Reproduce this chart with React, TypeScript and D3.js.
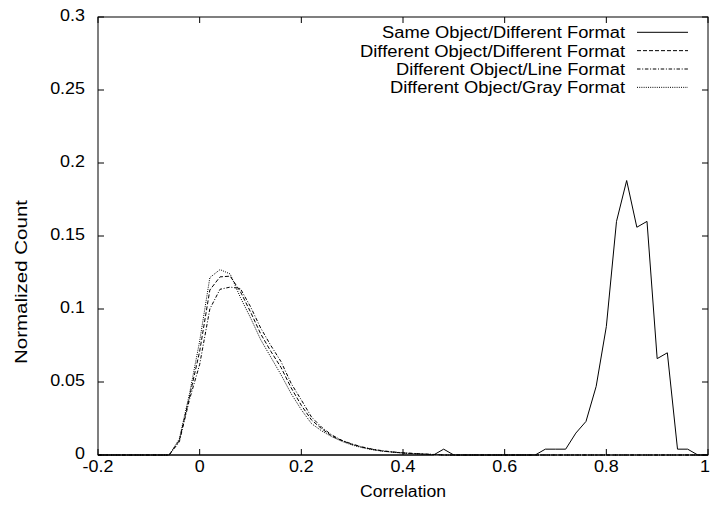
import React from 'react';
import * as d3 from 'd3';

// correlation bins (x) and normalized counts (y)
const sameX = [-0.2, 0.46, 0.48, 0.5, 0.66, 0.68, 0.7, 0.72, 0.74, 0.76, 0.78, 0.8, 0.82, 0.84, 0.86, 0.88, 0.9, 0.92, 0.94, 0.96, 0.98, 1.0];
const sameY = [0, 0, 0.004, 0, 0, 0.004, 0.004, 0.004, 0.015, 0.023, 0.047, 0.088, 0.16, 0.188, 0.156, 0.16, 0.066, 0.07, 0.004, 0.004, 0, 0];

const diffX = [-0.2, -0.06, -0.04, -0.02, 0, 0.02, 0.04, 0.06, 0.08, 0.1, 0.12, 0.14, 0.16, 0.18, 0.2, 0.22, 0.24, 0.26, 0.28, 0.3, 0.32, 0.34, 0.36, 0.38, 0.4, 0.42, 0.44, 0.46, 0.48, 1.0];
const diffFormatY = [0, 0, 0.01, 0.04, 0.071, 0.113, 0.122, 0.1225, 0.112, 0.098, 0.083, 0.071, 0.06, 0.046, 0.034, 0.024, 0.018, 0.013, 0.0098, 0.0073, 0.0053, 0.0038, 0.0027, 0.002, 0.0014, 0.001, 0.0006, 0.0003, 0, 0];
const lineFormatY = [0, 0, 0.009, 0.038, 0.062, 0.1, 0.1135, 0.115, 0.114, 0.1016, 0.087, 0.075, 0.064, 0.049, 0.0377, 0.026, 0.019, 0.0137, 0.01, 0.0075, 0.0055, 0.004, 0.0029, 0.0021, 0.0015, 0.0011, 0.0007, 0.0004, 0, 0];
const grayFormatY = [0, 0, 0.011, 0.042, 0.078, 0.1215, 0.127, 0.124, 0.108, 0.094, 0.079, 0.067, 0.055, 0.042, 0.031, 0.0215, 0.0165, 0.0125, 0.0093, 0.0068, 0.005, 0.0036, 0.0026, 0.0019, 0.0013, 0.0009, 0.0006, 0.0003, 0, 0];

const seriesNames = [
  'Same Object/Different Format',
  'Different Object/Different Format',
  'Different Object/Line Format',
  'Different Object/Gray Format',
];
const xTicks = [-0.2, 0, 0.2, 0.4, 0.6, 0.8, 1];
const yTicks = [0, 0.05, 0.1, 0.15, 0.2, 0.25, 0.3];

export default function App() {
  const width = 711;
  const height = 514;
  const margin = { left: 98, right: 3, top: 17, bottom: 59 };
  const font = "'Liberation Sans', Arial, Helvetica, sans-serif";
  const stretch = 'scale(1.12,1)';

  const x = d3.scaleLinear().domain([-0.2, 1]).range([margin.left, width - margin.right]);
  const y = d3.scaleLinear().domain([0, 0.3]).range([height - margin.bottom, margin.top]);

  const line = d3.line<[number, number]>()
    .x(d => x(d[0]))
    .y(d => y(d[1]));

  const series = [
    { xs: sameX, ys: sameY, dash: 'none', label: seriesNames[0], len: 243 },
    { xs: diffX, ys: diffFormatY, dash: '4,2', label: seriesNames[1], len: 265 },
    { xs: diffX, ys: lineFormatY, dash: '3.5,1.7,1,1.7', label: seriesNames[2], len: 229 },
    { xs: diffX, ys: grayFormatY, dash: '1,1.2', label: seriesNames[3], len: 235 },
  ];

  const x0 = x.range()[0], x1 = x.range()[1];
  const y0 = y.range()[0], y1 = y.range()[1];
  const tick = 6;

  return (
    <svg width={width} height={height} style={{ position: 'absolute', left: 0, top: 0, background: '#fff' }}
      fontFamily={font} fontSize={16}>
      {/* ticks, mirrored inward on all sides */}
      {yTicks.map(t => (
        <g key={'y' + t}>
          <line x1={x0} x2={x0 + tick} y1={y(t)} y2={y(t)} stroke="#000" />
          <line x1={x1} x2={x1 - tick} y1={y(t)} y2={y(t)} stroke="#000" />
          <text transform={`translate(${x0 - 13},${y(t) + 4}) ${stretch}`} textAnchor="end">{t}</text>
        </g>
      ))}
      {xTicks.map((t, i) => {
        // last label sits against the window edge, keep it inside
        const last = i === xTicks.length - 1;
        const lx = last ? width - 1 : x(t);
        return (
          <g key={'x' + t}>
            <line x1={x(t)} x2={x(t)} y1={y0} y2={y0 - tick} stroke="#000" />
            <line x1={x(t)} x2={x(t)} y1={y1} y2={y1 + tick} stroke="#000" />
            <text transform={`translate(${lx},${y0 + 17}) ${stretch}`} textAnchor={last ? 'end' : 'middle'}>{t}</text>
          </g>
        );
      })}
      <rect x={x0} y={y1} width={x1 - x0} height={y0 - y1} fill="none" stroke="#000" />

      <text x={(x0 + x1) / 2} y={497} textAnchor="middle" textLength={86} lengthAdjust="spacingAndGlyphs">Correlation</text>
      <text transform="translate(27,282) rotate(-90)" textAnchor="middle" textLength={164} lengthAdjust="spacingAndGlyphs">Normalized Count</text>

      {series.map(s => (
        <path key={s.label} d={line(s.xs.map((v, i) => [v, s.ys[i]]) as [number, number][]) || ''}
          fill="none" stroke="#000" strokeWidth={1} strokeDasharray={s.dash} />
      ))}

      {/* legend */}
      {series.map((s, i) => {
        const base = 38.3 + i * 18.35;
        return (
          <g key={'k' + i}>
            <text x={625 - s.len} y={base} textLength={s.len} lengthAdjust="spacingAndGlyphs">{s.label}</text>
            <line x1={637} x2={688} y1={base - 6} y2={base - 6} stroke="#000" strokeDasharray={s.dash} />
          </g>
        );
      })}
    </svg>
  );
}
